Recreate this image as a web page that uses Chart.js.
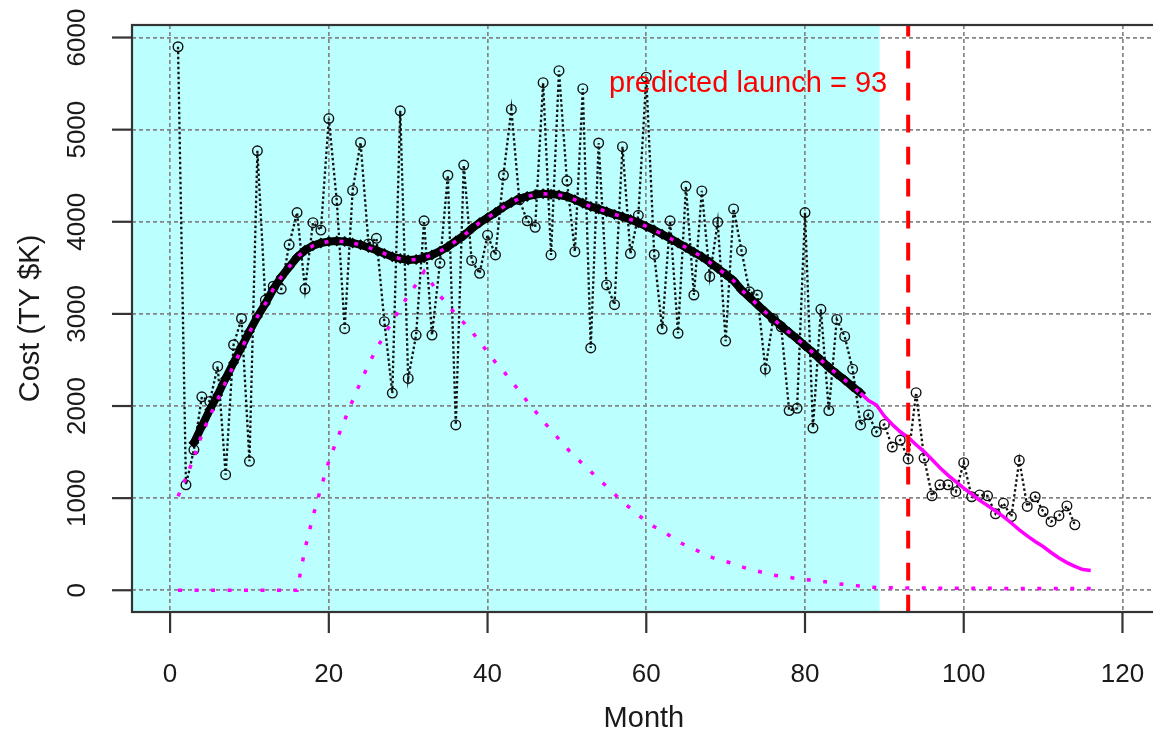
<!DOCTYPE html>
<html>
<head>
<meta charset="utf-8">
<script src="https://cdn.jsdelivr.net/npm/chart.js@4.4.0/dist/chart.umd.min.js"></script>
<style>
  html, body { margin: 0; padding: 0; background: #fff; overflow: hidden; }
  canvas { display: block; }
</style>
</head>
<body>
<canvas id="chart" width="1162" height="735"></canvas>
<script>
// monthly cost, months 1..114
const costs = [
  5900, 1145, 1525, 2100, 2050, 2430, 1255, 2665, 2950, 1400,
  4770, 3150, 3300, 3270, 3750, 4100, 3270, 3990, 3910, 5120,
  4230, 2840, 4340, 4860, 3760, 3820, 2915, 2140, 5205, 2300,
  2770, 4010, 2770, 3550, 4505, 1795, 4615, 3580, 3440, 3855,
  3640, 4505, 5220, 4240, 4010, 3940, 5510, 3640, 5640, 4445,
  3675, 5445, 2630, 4855, 3315, 3100, 4815, 3655, 4070, 5570,
  3645, 2835, 4010, 2790, 4385, 3205, 4335, 3405, 3995, 2705,
  4140, 3686, 3240, 3205, 2400, 2950, 2860, 1950, 1975, 4100,
  1760, 3050, 1950, 2940, 2755, 2400, 1795, 1905, 1720, 1800,
  1555, 1630, 1425, 2145, 1435, 1025, 1145, 1145, 1070, 1385,
  1015, 1035, 1025, 830, 945, 800, 1410, 910, 1015, 855,
  745, 810, 915, 710
];

// smoothed trend, months 3..87
const trendStart = 3;
const trend = [
  1600, 1780, 1960, 2120, 2300, 2470, 2640, 2810, 2970, 3110,
  3270, 3400, 3510, 3615, 3690, 3740, 3770, 3785, 3790, 3785,
  3770, 3750, 3720, 3690, 3655, 3620, 3600, 3585, 3590, 3610,
  3640, 3680, 3730, 3790, 3850, 3925, 3990, 4045, 4100, 4160,
  4210, 4250, 4275, 4295, 4305, 4300, 4290, 4275, 4240, 4200,
  4165, 4140, 4110, 4080, 4055, 4025, 3990, 3950, 3910, 3865,
  3820, 3770, 3720, 3670, 3620, 3560, 3495, 3430, 3360, 3260,
  3180, 3100, 3020, 2945, 2870, 2800, 2730, 2655, 2580, 2500,
  2420, 2350, 2283, 2210, 2140
];

// fitted model, months 1..116 (dotted up to fitSplit, solid after)
const fit = [
  1020, 1220, 1440, 1690, 1890, 2070, 2260, 2440, 2620, 2800,
  2970, 3110, 3270, 3400, 3510, 3615, 3690, 3740, 3770, 3785,
  3790, 3785, 3770, 3750, 3720, 3690, 3655, 3620, 3600, 3585,
  3590, 3610, 3640, 3680, 3730, 3790, 3850, 3925, 3990, 4045,
  4100, 4160, 4210, 4250, 4275, 4295, 4305, 4300, 4290, 4275,
  4240, 4200, 4165, 4140, 4110, 4080, 4055, 4025, 3990, 3950,
  3910, 3865, 3820, 3770, 3720, 3670, 3620, 3560, 3495, 3430,
  3360, 3260, 3180, 3100, 3020, 2945, 2870, 2800, 2730, 2655,
  2580, 2500, 2420, 2350, 2283, 2210, 2140, 2060, 2010, 1890,
  1800, 1720, 1660, 1580, 1505, 1420, 1330, 1250, 1180, 1108,
  1045, 975, 920, 860, 800, 730, 655, 590, 530, 475,
  410, 350, 300, 260, 225, 215
];

// second phase component, months 1..116
const phase2 = [
  0, 0, 0, 0, 0, 0, 0, 0, 0, 0,
  0, 0, 0, 0, 0, 0, 450, 800, 1110, 1400,
  1630, 1850, 2060, 2260, 2450, 2620, 2770, 2920, 3060, 3200,
  3320, 3460, 3330, 3195, 3105, 2990, 2905, 2810, 2700, 2585,
  2475, 2380, 2270, 2165, 2050, 1945, 1840, 1735, 1640, 1540,
  1455, 1370, 1290, 1200, 1130, 1045, 960, 890, 815, 750,
  690, 645, 590, 530, 485, 450, 405, 365, 335, 312,
  290, 255, 230, 208, 185, 165, 152, 140, 127, 116,
  108, 98, 86, 72, 63, 54, 45, 35, 30, 28,
  26, 25, 25, 24, 24, 23, 23, 22, 22, 22,
  21, 21, 21, 20, 20, 20, 20, 19, 19, 19,
  19, 18, 18, 18, 18, 18
];

const fitSplit = 87;
const launchMonth = 93;
const shadeEnd = 89.4;
const xTicks = [0, 20, 40, 60, 80, 100, 120];
const yTicks = [0, 1000, 2000, 3000, 4000, 5000, 6000];

const FONT = '"Liberation Sans", Arial, sans-serif';
const MAGENTA = '#ff00ff';
const RED = '#ff0000';

const toPoints = (values, start) => values.map((v, i) => ({ x: start + i, y: v }));

const rStyle = {
  id: 'rStyle',
  beforeDraw(chart) {
    const { ctx, chartArea: a, scales: { x } } = chart;
    ctx.save();
    ctx.fillStyle = '#bbffff';
    ctx.fillRect(a.left, a.top, x.getPixelForValue(shadeEnd) - a.left, a.bottom - a.top);
    ctx.restore();
  },
  afterDatasetsDraw(chart) {
    const { ctx, chartArea: a, scales: { x, y } } = chart;
    const px = x.getPixelForValue(launchMonth);
    ctx.save();
    ctx.strokeStyle = RED;
    ctx.lineWidth = 4;
    ctx.setLineDash([17.7, 14.3]);
    ctx.lineDashOffset = 6.3;
    ctx.beginPath();
    ctx.moveTo(px, a.top);
    ctx.lineTo(px, a.bottom);
    ctx.stroke();
    ctx.setLineDash([]);
    ctx.fillStyle = RED;
    ctx.font = '29px ' + FONT;
    ctx.textAlign = 'right';
    ctx.textBaseline = 'middle';
    ctx.fillText('predicted launch = ' + launchMonth, px - 21, y.getPixelForValue(5500));
    ctx.restore();
  },
  afterDraw(chart) {
    const { ctx, chartArea: a, scales: { x, y } } = chart;
    ctx.save();
    ctx.strokeStyle = '#333';
    ctx.lineWidth = 2.2;
    ctx.strokeRect(a.left, a.top, a.right - a.left, a.bottom - a.top);

    ctx.fillStyle = '#1a1a1a';
    ctx.font = '26px ' + FONT;
    ctx.textAlign = 'center';
    ctx.textBaseline = 'middle';
    xTicks.forEach(v => {
      const px = x.getPixelForValue(v);
      ctx.beginPath();
      ctx.moveTo(px, a.bottom);
      ctx.lineTo(px, a.bottom + 21);
      ctx.stroke();
      ctx.fillText(String(v), px, 675);
    });
    yTicks.forEach(v => {
      const py = y.getPixelForValue(v);
      ctx.beginPath();
      ctx.moveTo(a.left, py);
      ctx.lineTo(a.left - 20, py);
      ctx.stroke();
      ctx.save();
      ctx.translate(78, py);
      ctx.rotate(-Math.PI / 2);
      ctx.fillText(String(v), 0, 0);
      ctx.restore();
    });

    ctx.font = '29px ' + FONT;
    ctx.fillText('Month', (a.left + a.right) / 2, 719);
    ctx.translate(31, (a.top + a.bottom) / 2);
    ctx.rotate(-Math.PI / 2);
    ctx.fillText('Cost (TY $K)', 0, 0);
    ctx.restore();
  }
};

const gridAxis = (min, max, ticks, flat) => ({
  type: 'linear',
  min,
  max,
  afterBuildTicks: axis => { axis.ticks = ticks.map(v => ({ value: v })); },
  afterFit: scale => { if (flat) { scale.height = 0; } else { scale.width = 0; } },
  ticks: { display: false },
  grid: { color: '#858585', lineWidth: 1.7, drawTicks: false },
  border: { display: false, dash: [4, 3] },
});

new Chart(document.getElementById('chart'), {
  type: 'line',
  data: {
    datasets: [
      {
        label: 'fit',
        data: toPoints(fit, 1),
        borderColor: MAGENTA,
        borderWidth: 3.5,
        pointRadius: 0,
        segment: {
          borderDash: c => (c.p1.parsed.x <= fitSplit ? [4, 11] : []),
        },
      },
      {
        label: 'phase 2',
        data: toPoints(phase2, 1),
        borderColor: MAGENTA,
        borderWidth: 3.5,
        borderDash: [4, 12.5],
        pointRadius: 0,
      },
      {
        label: 'trend',
        data: toPoints(trend, trendStart),
        borderColor: '#000',
        borderWidth: 8,
        pointStyle: 'rectRot',
        pointRadius: 5.5,
        pointBorderWidth: 0,
        pointBackgroundColor: '#000',
      },
      {
        label: 'cost',
        data: toPoints(costs, 1),
        borderColor: '#111',
        borderWidth: 2.3,
        borderDash: [2.5, 2.5],
        pointStyle: 'circle',
        pointRadius: 4.8,
        pointBorderWidth: 1.4,
        pointBorderColor: '#111',
        pointBackgroundColor: 'rgba(0,0,0,0)',
      },
    ],
  },
  options: {
    responsive: false,
    animation: false,
    layout: { padding: { left: 132, top: 25, right: 2, bottom: 123 } },
    plugins: {
      legend: { display: false },
      tooltip: { enabled: false },
    },
    scales: {
      x: gridAxis(-4.8, 124.2, xTicks, true),
      y: gridAxis(-236, 6136, yTicks, false),
    },
  },
  plugins: [rStyle],
});
</script>
</body>
</html>
